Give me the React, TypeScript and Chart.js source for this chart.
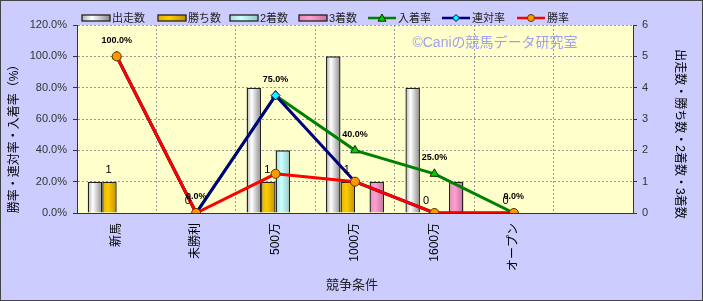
import React, { useEffect, useRef } from 'react';
import { Chart, registerables } from 'chart.js';

Chart.register(...registerables);

// ---- data ----
const categories = ['新馬', '未勝利', '500万', '1000万', '1600万', 'オープン', ''];
const runs = [1, 0, 4, 5, 4, 0, null];
const wins = [1, 0, 1, 1, 0, 0, null];
const seconds = [0, 0, 2, 0, 0, 0, null];
const thirds = [0, 0, 0, 1, 1, 0, null];
const placeRate = [100, 0, 75, 40, 25, 0, null];
const rentaiRate = [100, 0, 75, 20, 0, 0, null];
const winRate = [100, 0, 25, 20, 0, 0, null];
const leftTicks = [0, 20, 40, 60, 80, 100, 120];
const rightTicks = [0, 1, 2, 3, 4, 5, 6];

const FONT = "'Liberation Sans', 'Noto Sans CJK JP', sans-serif";

const barStops: Record<string, [number, string][]> = {
  '出走数': [[0, '#b0b0b0'], [0.35, '#ffffff'], [1, '#8a8a8a']],
  '勝ち数': [[0, '#e0b000'], [0.4, '#ffcc00'], [1, '#c09000']],
  '2着数': [[0, '#a8dcdc'], [0.4, '#ccffff'], [1, '#90c8c8']],
  '3着数': [[0, '#e48cbc'], [0.4, '#ff9fd0'], [1, '#c8709c']],
};

const legendItems = [
  { label: '出走数', kind: 'bar', x: 82 },
  { label: '勝ち数', kind: 'bar', x: 158 },
  { label: '2着数', kind: 'bar', x: 230 },
  { label: '3着数', kind: 'bar', x: 299 },
  { label: '入着率', kind: 'line', x: 368, color: '#008000', fill: '#00cc00', border: '#003300', marker: 'tri' },
  { label: '連対率', kind: 'line', x: 442, color: '#000080', fill: '#00ffff', border: '#000060', marker: 'dia' },
  { label: '勝率', kind: 'line', x: 517, color: '#ff0000', fill: '#ff9900', border: '#663300', marker: 'circ' },
];

function drawMarker(ctx: CanvasRenderingContext2D, type: string, x: number, y: number, r: number, fill: string, stroke: string) {
  ctx.save();
  ctx.beginPath();
  if (type === 'circ') {
    ctx.arc(x, y, r, 0, Math.PI * 2);
  } else if (type === 'dia') {
    ctx.moveTo(x, y - r); ctx.lineTo(x + r, y); ctx.lineTo(x, y + r); ctx.lineTo(x - r, y); ctx.closePath();
  } else {
    ctx.moveTo(x, y - r); ctx.lineTo(x + r, y + r * 0.8); ctx.lineTo(x - r, y + r * 0.8); ctx.closePath();
  }
  ctx.fillStyle = fill; ctx.fill();
  ctx.lineWidth = 1; ctx.strokeStyle = stroke; ctx.stroke();
  ctx.restore();
}

const decorPlugin = {
  id: 'decor',
  beforeDraw(chart: any) {
    const { ctx, chartArea } = chart;
    ctx.save();
    ctx.fillStyle = '#ccccff';
    ctx.fillRect(0, 0, chart.width, chart.height);
    ctx.fillStyle = '#ffffcc';
    ctx.fillRect(chartArea.left, chartArea.top, chartArea.right - chartArea.left, chartArea.bottom - chartArea.top);
    ctx.restore();
  },
  beforeDatasetsDraw(chart: any) {
    const { ctx } = chart;
    // watermark
    ctx.save();
    ctx.font = `14px ${FONT}`;
    ctx.fillStyle = '#a0a0f0';
    ctx.textAlign = 'center';
    ctx.textBaseline = 'middle';
    ctx.fillText('©Caniの競馬データ研究室', 495, 43);
    ctx.restore();
    // bar gradients
    chart.data.datasets.forEach((ds: any, di: number) => {
      if (ds.type !== 'bar') return;
      const stops = barStops[ds.label];
      const meta = chart.getDatasetMeta(di);
      meta.data.forEach((el: any) => {
        const { x, width } = el.getProps(['x', 'width'], true);
        if (!isFinite(x) || !isFinite(width)) return;
        const g = ctx.createLinearGradient(x - width / 2, 0, x + width / 2, 0);
        stops.forEach(([o, c]) => g.addColorStop(o, c));
        el.options = { ...el.options, backgroundColor: g };
      });
    });
  },
  afterDatasetsDraw(chart: any) {
    const { ctx } = chart;
    ctx.save();
    ctx.textAlign = 'center';
    ctx.textBaseline = 'middle';
    ctx.fillStyle = '#000';
    // win-count labels
    const wi = chart.data.datasets.findIndex((d: any) => d.label === '勝ち数');
    chart.getDatasetMeta(wi).data.forEach((el: any, i: number) => {
      const v = wins[i];
      if (v === null || v === undefined) return;
      ctx.font = `11px ${FONT}`;
      ctx.fillText(String(v), el.x - 1, el.y - 12);
    });
    // place-rate labels
    const pi = chart.data.datasets.findIndex((d: any) => d.label === '入着率');
    chart.getDatasetMeta(pi).data.forEach((el: any, i: number) => {
      const v = placeRate[i];
      if (v === null || v === undefined) return;
      ctx.font = `bold 9px ${FONT}`;
      ctx.fillText(v.toFixed(1) + '%', el.x, el.y - 16);
    });
    ctx.restore();
  },
  afterDraw(chart: any) {
    const { ctx } = chart;
    ctx.save();
    // legend
    legendItems.forEach((it: any) => {
      if (it.kind === 'bar') {
        const g = ctx.createLinearGradient(it.x, 0, it.x + 28, 0);
        barStops[it.label].forEach(([o, c]) => g.addColorStop(o, c));
        ctx.fillStyle = g;
        ctx.fillRect(it.x, 15, 28, 6);
        ctx.lineWidth = 1.3;
        ctx.strokeStyle = '#222';
        ctx.strokeRect(it.x, 15, 28, 6);
      } else {
        ctx.beginPath();
        ctx.moveTo(it.x, 18);
        ctx.lineTo(it.x + 28, 18);
        ctx.lineWidth = 2.5;
        ctx.strokeStyle = it.color;
        ctx.stroke();
        drawMarker(ctx, it.marker, it.x + 14, 18, it.marker === 'tri' ? 4 : 3.5, it.fill, it.border);
      }
      ctx.font = `11px ${FONT}`;
      ctx.fillStyle = '#222';
      ctx.textAlign = 'left';
      ctx.textBaseline = 'middle';
      ctx.fillText(it.label, it.x + 30, 18.5);
    });
    // axis titles
    ctx.fillStyle = '#000';
    ctx.textAlign = 'center';
    ctx.textBaseline = 'middle';
    ctx.save();
    ctx.translate(15, 136);
    ctx.rotate(-Math.PI / 2);
    ctx.font = `12px ${FONT}`;
    ctx.fillText('勝率・連対率・入着率（%）', 0, 0);
    ctx.restore();
    ctx.save();
    ctx.translate(679, 134);
    ctx.rotate(Math.PI / 2);
    ctx.font = `12px ${FONT}`;
    ctx.fillText('出走数・勝ち数・2着数・3着数', 0, 0);
    ctx.restore();
    ctx.font = `13px ${FONT}`;
    ctx.fillStyle = '#222';
    ctx.fillText('競争条件', 352, 285);
    // outer frame
    ctx.lineWidth = 1;
    ctx.strokeStyle = '#444';
    ctx.strokeRect(0.5, 0.5, chart.width - 1, chart.height - 1);
    ctx.restore();
  },
};

export default function App() {
  const ref = useRef<HTMLCanvasElement | null>(null);
  useEffect(() => {
    document.body.style.margin = '0';
    const canvas = ref.current!;
    const barBase = { type: 'bar' as const, yAxisID: 'y1', borderColor: '#222', borderWidth: 1.4, order: 10, categoryPercentage: 0.73, barPercentage: 1.0 };
    const chart = new Chart(canvas, {
      type: 'bar',
      data: {
        labels: categories,
        datasets: [
          { ...barBase, label: '出走数', data: runs, backgroundColor: '#eeeeee' },
          { ...barBase, label: '勝ち数', data: wins, backgroundColor: '#ffcc00' },
          { ...barBase, label: '2着数', data: seconds, backgroundColor: '#ccffff' },
          { ...barBase, label: '3着数', data: thirds, backgroundColor: '#ff99cc' },
          {
            type: 'line', label: '入着率', data: placeRate, yAxisID: 'y', order: 3,
            borderColor: '#008000', borderWidth: 3, pointStyle: 'triangle', pointRadius: 5,
            pointBackgroundColor: '#00cc00', pointBorderColor: '#003300', pointBorderWidth: 1, tension: 0,
          },
          {
            type: 'line', label: '連対率', data: rentaiRate, yAxisID: 'y', order: 2,
            borderColor: '#000080', borderWidth: 3, pointStyle: 'rectRot', pointRadius: 4.5,
            pointBackgroundColor: '#00ffff', pointBorderColor: '#000060', pointBorderWidth: 1, tension: 0,
          },
          {
            type: 'line', label: '勝率', data: winRate, yAxisID: 'y', order: 1,
            borderColor: '#ff0000', borderWidth: 3, pointStyle: 'circle', pointRadius: 4.5,
            pointBackgroundColor: '#ff9900', pointBorderColor: '#663300', pointBorderWidth: 1, tension: 0,
          },
        ] as any,
      },
      options: {
        animation: false,
        responsive: false,
        devicePixelRatio: 1,
        layout: { padding: { top: 25, left: 0, right: 0, bottom: 0 } },
        plugins: { legend: { display: false }, tooltip: { enabled: false } },
        events: [],
        scales: {
          x: {
            afterFit: (s: any) => { s.height = 88; },
            grid: { color: '#999', lineWidth: 1, drawTicks: false, offset: true },
            border: { color: '#333', width: 1, dash: [2, 2] },
            ticks: {
              minRotation: 90, maxRotation: 90, padding: 10, autoSkip: false,
              color: '#000', font: { family: FONT, size: 12 },
            },
          },
          y: {
            position: 'left', min: 0, max: 120,
            afterFit: (s: any) => { s.width = 77; },
            afterBuildTicks: (s: any) => { s.ticks = leftTicks.map((v) => ({ value: v })); },
            grid: { color: '#999', lineWidth: 1, tickLength: 4, tickColor: '#333' },
            border: { color: '#333', width: 1, dash: [2, 2] },
            ticks: {
              padding: 6, color: '#333', font: { family: FONT, size: 11 },
              callback: (v: any) => Number(v).toFixed(1) + '%',
            },
          },
          y1: {
            position: 'right', min: 0, max: 6,
            afterFit: (s: any) => { s.width = 70; },
            afterBuildTicks: (s: any) => { s.ticks = rightTicks.map((v) => ({ value: v })); },
            grid: { drawOnChartArea: false, tickLength: 4, tickColor: '#333' },
            border: { color: '#333', width: 1 },
            ticks: { padding: 5, color: '#333', font: { family: FONT, size: 11 } },
          },
        },
      } as any,
      plugins: [decorPlugin],
    });
    return () => chart.destroy();
  }, []);
  return <canvas ref={ref} width={703} height={301} style={{ display: 'block', width: 703, height: 301 }} />;
}
